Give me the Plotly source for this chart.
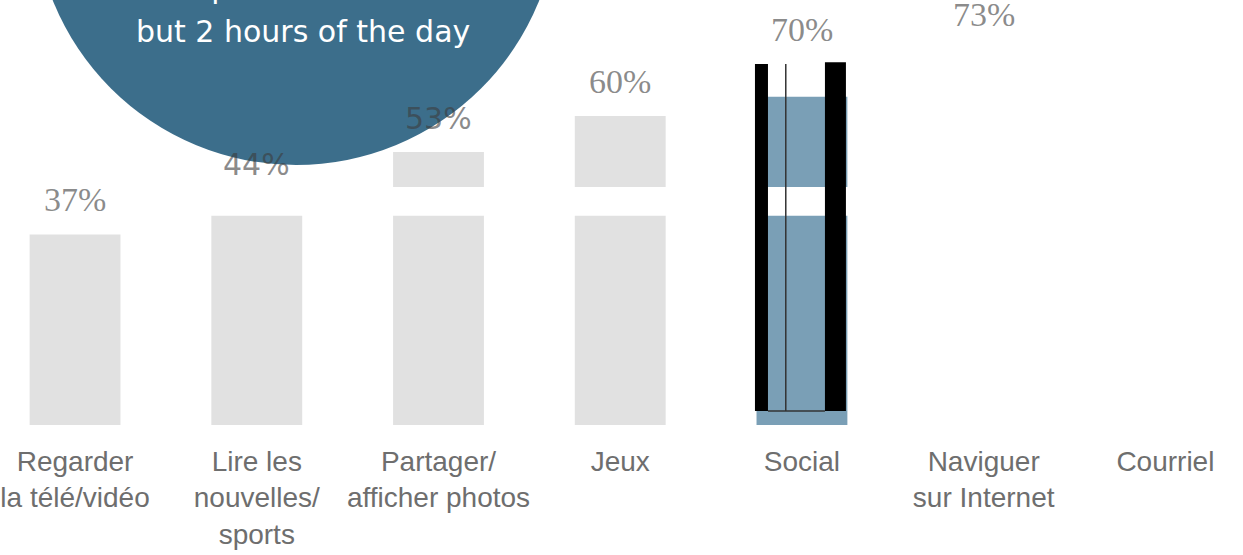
import plotly.graph_objects as go

# ---- data ----
categories = [
    "Regarder<br>la télé/vidéo",
    "Lire les<br>nouvelles/<br>sports",
    "Partager/<br>afficher photos",
    "Jeux",
    "Social",
    "Naviguer<br>sur Internet",
    "Courriel",
]
values = [37, 44, 53, 60, 70, 73, 78]
highlight = "Social"
hidden = ["Naviguer<br>sur Internet", "Courriel"]
callout_lines = ["smartphones with us all", "but 2 hours of the day"]

# ---- styles ----
GRAY_BAR = "#e1e1e1"
BLUE_BAR = "#7a9fb6"
CIRCLE = "#3c6e8b"
sans_labels = {"44%", "53%"}

bar_colors = []
for c in categories:
    if c == highlight:
        bar_colors.append(BLUE_BAR)
    elif c in hidden:
        bar_colors.append("rgba(0,0,0,0)")
    else:
        bar_colors.append(GRAY_BAR)

fig = go.Figure()
fig.add_trace(go.Bar(
    x=categories, y=values, width=0.5,
    marker=dict(color=bar_colors, line=dict(width=0)),
    hoverinfo="skip", showlegend=False,
))

annotations = []
for c, v in zip(categories, values):
    txt = f"{v}%"
    sans = txt in sans_labels
    annotations.append(dict(
        x=c, y=v, xref="x", yref="y", text=txt, showarrow=False,
        xanchor="center", yanchor="bottom", yshift=14,
        font=dict(family="DejaVu Sans" if sans else "Liberation Serif",
                  size=30 if sans else 34,
                  color="rgba(60,60,60,0.6)"),
    ))

n = len(callout_lines)
for i, line in enumerate(callout_lines):
    annotations.append(dict(
        x=303 / 1243, y=(425 - 51) / 425, xref="paper", yref="paper",
        text=line, showarrow=False, yshift=(n - 1 - i) * 44,
        xanchor="center", yanchor="bottom", align="center",
        font=dict(family="DejaVu Sans", size=30, color="white"),
    ))

si = categories.index(highlight)
shapes = [
    # white horizontal break across the bars
    dict(type="rect", xref="paper", yref="y", x0=0, x1=1, y0=40.6, y1=46.2,
         fillcolor="white", line=dict(width=0), layer="above"),
    # white patch at top of highlighted bar
    dict(type="rect", xref="x", yref="y", x0=si - 0.27, x1=si + 0.27, y0=63.7, y1=71,
         fillcolor="white", line=dict(width=0), layer="above"),
    # black frame around highlighted bar
    dict(type="rect", xref="x", yref="y", x0=si - 0.2586, x1=si - 0.187, y0=2.7, y1=70.1,
         fillcolor="black", line=dict(width=0), layer="above"),
    dict(type="rect", xref="x", yref="y", x0=si + 0.1265, x1=si + 0.242, y0=2.7, y1=70.4,
         fillcolor="black", line=dict(width=0), layer="above"),
    dict(type="line", xref="x", yref="y", x0=si - 0.089, x1=si - 0.089, y0=2.7, y1=70.1,
         line=dict(color="#333333", width=1.5), layer="above"),
    dict(type="line", xref="x", yref="y", x0=si - 0.187, x1=si + 0.1265, y0=2.7, y1=2.7,
         line=dict(color="#333333", width=1.5), layer="above"),
    # callout circle
    dict(type="circle", xref="paper", yref="paper",
         x0=34 / 1243, x1=558 / 1243, y0=(425 - 165) / 425, y1=(425 + 359) / 425,
         fillcolor=CIRCLE, line=dict(width=0), layer="above"),
]

fig.update_layout(
    width=1243, height=555,
    margin=dict(l=0, r=0, t=0, b=130),
    paper_bgcolor="white", plot_bgcolor="white",
    bargap=0.5,
    xaxis=dict(range=[-0.413, 6.427], showgrid=False, zeroline=False, showline=False,
               ticks="", tickfont=dict(family="Liberation Sans", size=28, color="#6e6e6e"),
               tickangle=0, ticklabelstandoff=17),
    yaxis=dict(range=[0, 82.5], showgrid=False, zeroline=False, showline=False,
               showticklabels=False),
    annotations=annotations,
    shapes=shapes,
)

fig.write_html("out.html")
